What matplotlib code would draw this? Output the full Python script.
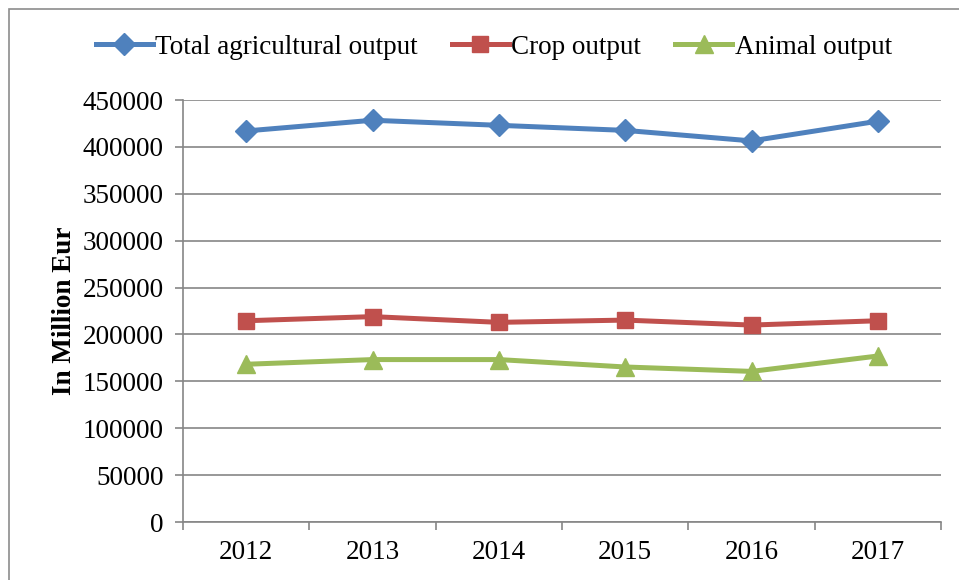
import matplotlib
matplotlib.use("Agg")
import matplotlib.pyplot as plt
from matplotlib.patches import Rectangle

years = ["2012", "2013", "2014", "2015", "2016", "2017"]
total_output = [417000, 428400, 423000, 417600, 406400, 427400]
crop_output = [214600, 219000, 212900, 215300, 210000, 214600]
animal_output = [168200, 173200, 173200, 165300, 160600, 177000]
y_ticks = list(range(0, 450001, 50000))

plt.rcParams["font.family"] = ["Liberation Serif", "DejaVu Serif"]
FS = 19.5

fig = plt.figure(figsize=(9.59, 5.8), dpi=100)
ax = fig.add_axes([183 / 959, 58 / 580, (941 - 183) / 959, 422 / 580])

# outer chart frame (top and left edges visible)
fig.patches.append(Rectangle((9 / 959, -0.1), 1.2, (580 - 9) / 580 + 0.1,
                             transform=fig.transFigure, fill=False,
                             edgecolor="#8c8c8c", linewidth=1.2))

x = list(range(len(years)))
ax.plot(x, total_output, color="#4F81BD", linewidth=3.6, marker="D",
        markersize=11, label="Total agricultural output", zorder=3)
ax.plot(x, crop_output, color="#C0504D", linewidth=3.6, marker="s",
        markersize=11, label="Crop output", zorder=3)
ax.plot(x, animal_output, color="#9BBB59", linewidth=3.6, marker="^",
        markersize=13, label="Animal output", zorder=3)

ax.set_xlim(-0.5, len(years) - 0.5)
ax.set_ylim(0, 450000)
ax.set_yticks(y_ticks)
ax.set_yticklabels([str(v) for v in y_ticks], fontsize=FS)
ax.set_xticks(x)
ax.set_xticklabels(years, fontsize=FS)
ax.set_xticks([i - 0.5 for i in range(len(years) + 1)], minor=True)
ax.tick_params(axis="x", which="major", length=0, pad=13)
ax.tick_params(axis="x", which="minor", length=6, color="#868686", width=1.2)
ax.tick_params(axis="y", length=6, color="#868686", width=1.2, pad=8)

ax.grid(axis="y", color="#868686", linewidth=1.2)
ax.set_axisbelow(True)
for side in ["top", "right"]:
    ax.spines[side].set_visible(False)
for side in ["left", "bottom"]:
    ax.spines[side].set_color("#868686")
    ax.spines[side].set_linewidth(1.2)

ax.set_ylabel("In Million Eur", fontsize=FS, fontweight="bold", labelpad=4)

ax.legend(loc="center", bbox_to_anchor=(0.515, (580 - 47) / 580), bbox_transform=fig.transFigure,
          ncol=3, frameon=False, fontsize=FS, handlelength=2.1, handletextpad=0.1,
          columnspacing=1.25)

fig.savefig("out.png", dpi=100)
